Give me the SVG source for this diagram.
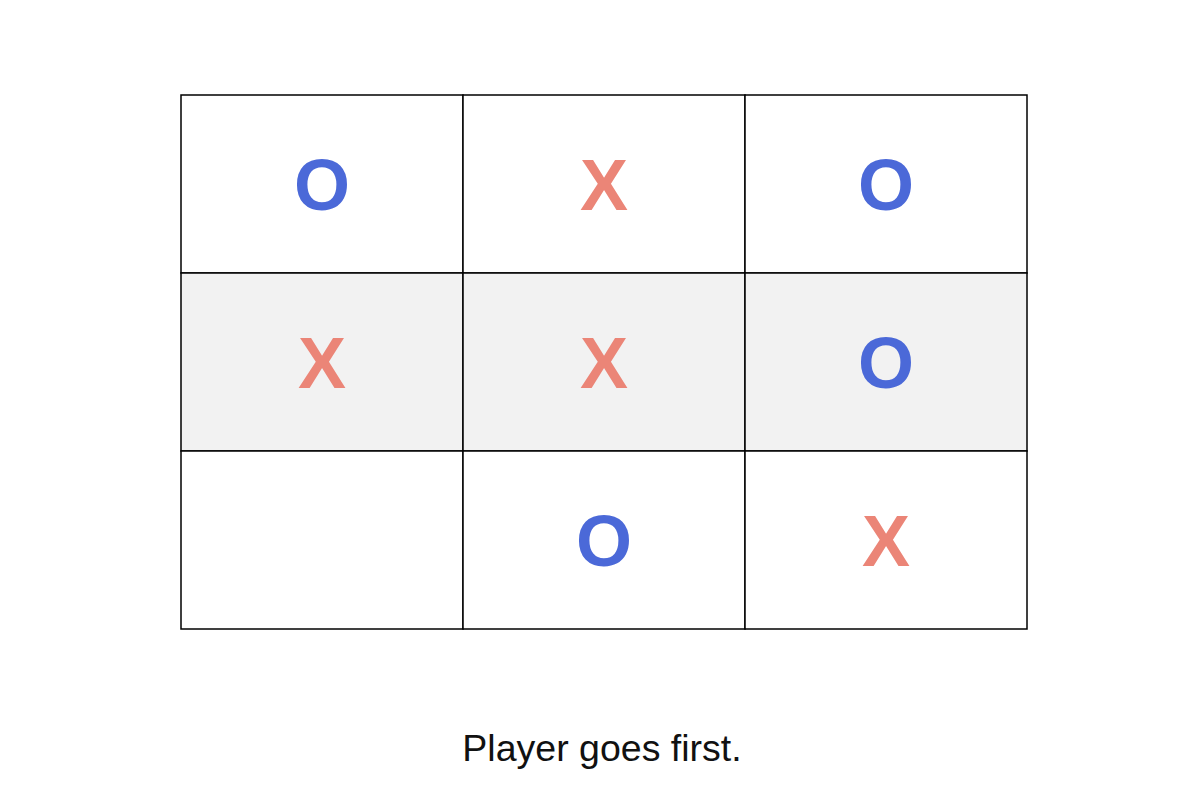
<svg xmlns="http://www.w3.org/2000/svg" width="1200" height="800" viewBox="0 0 1200 800">
<style>
.cell{fill:#ffffff;stroke:#000000;stroke-width:1.5}
.gray{fill:#f2f2f2}
.o{font-family:"Liberation Sans",Arial,sans-serif;font-weight:bold;font-size:72px;fill:#4b69d8;text-anchor:middle}
.x{font-family:"Liberation Sans",Arial,sans-serif;font-weight:bold;font-size:72px;fill:#eb8577;text-anchor:middle}
.cap{font-family:"Liberation Sans",Arial,sans-serif;font-size:37.5px;fill:#111111;text-anchor:middle}
</style>
<rect width="1200" height="800" fill="#ffffff"/>
<g id="r1c1"><rect class="cell" x="181" y="95" width="282" height="178"/><text class="o" x="322" y="210">O</text></g>
<g id="r1c2"><rect class="cell" x="463" y="95" width="282" height="178"/><text class="x" x="604" y="210">X</text></g>
<g id="r1c3"><rect class="cell" x="745" y="95" width="282" height="178"/><text class="o" x="886" y="210">O</text></g>
<g id="r2c1"><rect class="cell gray" x="181" y="273" width="282" height="178"/><text class="x" x="322" y="388">X</text></g>
<g id="r2c2"><rect class="cell gray" x="463" y="273" width="282" height="178"/><text class="x" x="604" y="388">X</text></g>
<g id="r2c3"><rect class="cell gray" x="745" y="273" width="282" height="178"/><text class="o" x="886" y="388">O</text></g>
<g id="r3c1"><rect class="cell" x="181" y="451" width="282" height="178"/></g>
<g id="r3c2"><rect class="cell" x="463" y="451" width="282" height="178"/><text class="o" x="604" y="566">O</text></g>
<g id="r3c3"><rect class="cell" x="745" y="451" width="282" height="178"/><text class="x" x="886" y="566">X</text></g>
<g id="caption"><text class="cap" x="602" y="761">Player goes first.</text></g>
</svg>
